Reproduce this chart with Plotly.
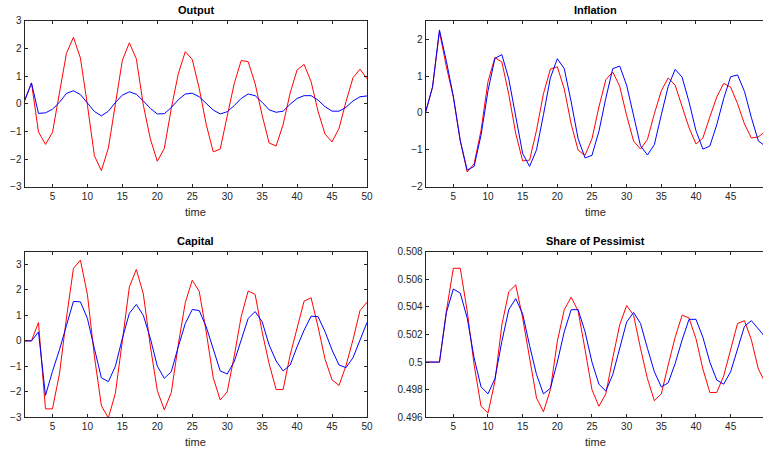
import plotly.graph_objects as go

t = list(range(1, 51))

output_red = [0.1, 0.75, -1.02, -1.47, -1.04, 0.35, 1.82, 2.4, 1.65, -0.05,
              -1.88, -2.42, -1.6, -0.02, 1.57, 2.2, 1.62, -0.05, -1.27, -2.08,
              -1.62, -0.17, 1.08, 1.88, 1.6, 0.55, -0.75, -1.74, -1.64, -0.45,
              0.72, 1.56, 1.52, 0.72, -0.42, -1.42, -1.53, -0.75, 0.38, 1.22,
              1.42, 0.8, -0.28, -1.1, -1.38, -0.89, 0.08, 0.94, 1.25, 0.9]
output_blue = [0.1, 0.75, -0.35, -0.33, -0.2, 0.05, 0.37, 0.47, 0.33, 0.04,
               -0.28, -0.44, -0.27, 0.04, 0.31, 0.43, 0.34, 0.1, -0.17, -0.37,
               -0.36, -0.14, 0.14, 0.35, 0.38, 0.25, 0.02, -0.23, -0.37, -0.29,
               -0.07, 0.19, 0.35, 0.29, 0.05, -0.22, -0.31, -0.27, -0.02, 0.19,
               0.29, 0.29, 0.13, -0.11, -0.27, -0.27, -0.13, 0.1, 0.25, 0.28]

infl_red = [0.02, 0.7, 2.2, 1.25, 0.43, -0.76, -1.6, -1.38, -0.47, 0.85,
            1.5, 1.38, 0.5, -0.56, -1.3, -1.28, -0.47, 0.52, 1.19, 1.25,
            0.65, -0.3, -1.01, -1.15, -0.7, 0.16, 0.9, 1.11, 0.72, -0.07,
            -0.76, -0.98, -0.72, -0.02, 0.6, 0.95, 0.75, 0.16, -0.4, -0.84,
            -0.68, -0.11, 0.43, 0.8, 0.7, 0.25, -0.3, -0.68, -0.65, -0.5]
infl_blue = [0.02, 0.7, 2.25, 1.4, 0.45, -0.75, -1.55, -1.45, -0.6, 0.6,
             1.48, 1.58, 0.92, -0.1, -1.1, -1.45, -1.0, -0.05, 0.95, 1.47,
             1.2, 0.3, -0.7, -1.22, -1.15, -0.5, 0.4, 1.2, 1.27, 0.75,
             -0.1, -0.89, -1.14, -0.86, -0.05, 0.72, 1.18, 0.97, 0.3, -0.48,
             -0.98, -0.9, -0.32, 0.39, 0.98, 1.03, 0.58, -0.13, -0.76, -0.9]

cap_red = [0.0, 0.0, 0.72, -2.67, -2.67, -1.3, 0.9, 2.84, 3.17, 1.82,
           -0.6, -2.55, -3.02, -2.06, 0.0, 2.12, 2.8, 1.84, -0.2, -1.95,
           -2.71, -2.03, -0.15, 1.5, 2.38, 1.94, 0.35, -1.45, -2.32, -2.0,
           -0.6, 0.95, 1.96, 1.82, 0.35, -0.9, -1.91, -1.91, -0.56, 0.55,
           1.56, 1.69, 0.55, -0.72, -1.53, -1.75, -0.97, 0.05, 1.19, 1.52]
cap_blue = [0.0, 0.0, 0.35, -2.14, -1.2, -0.35, 0.6, 1.55, 1.53, 0.88,
            -0.3, -1.45, -1.6, -1.0, 0.1, 1.08, 1.43, 1.0, 0.1, -0.99,
            -1.47, -1.21, -0.23, 0.68, 1.23, 1.19, 0.55, -0.36, -1.18, -1.3,
            -0.82, 0.03, 0.88, 1.15, 0.75, -0.16, -0.79, -1.18, -0.95, -0.23,
            0.42, 0.97, 0.95, 0.36, -0.36, -0.95, -1.05, -0.66, 0.03, 0.72]

share_red = [0.5, 0.5, 0.5, 0.5037, 0.5068, 0.5068, 0.5037, 0.4998, 0.4968, 0.4963,
             0.4986, 0.5027, 0.5051, 0.5056, 0.5032, 0.5003, 0.4974, 0.4964, 0.4980, 0.5015,
             0.5038, 0.5047, 0.5037, 0.5009, 0.4980, 0.4968, 0.4977, 0.5003, 0.5027, 0.5041,
             0.5034, 0.5010, 0.4988, 0.4972, 0.4977, 0.4998, 0.5018, 0.5034, 0.5032, 0.5017,
             0.4995, 0.4978, 0.4978, 0.4990, 0.5009, 0.5028, 0.5030, 0.5016, 0.4995, 0.4985]
share_blue = [0.5, 0.5, 0.5, 0.5036, 0.5053, 0.5050, 0.5032, 0.5003, 0.4982, 0.4977,
              0.4988, 0.5015, 0.5038, 0.5046, 0.5035, 0.5012, 0.4991, 0.4977, 0.4981, 0.5000,
              0.5022, 0.5038, 0.5038, 0.5022, 0.5000, 0.4984, 0.4979, 0.4991, 0.5010, 0.5029,
              0.5036, 0.5028, 0.5010, 0.4993, 0.4982, 0.4985, 0.4999, 0.5016, 0.5031, 0.5031,
              0.5018, 0.5000, 0.4987, 0.4984, 0.4993, 0.5010, 0.5026, 0.5030, 0.5024, 0.5018]

titles = ["Output", "Inflation", "Capital", "Share of Pessimist"]
xticks = [5, 10, 15, 20, 25, 30, 35, 40, 45, 50]
yticks_output = [-3, -2, -1, 0, 1, 2, 3]
yticks_infl = [-2, -1, 0, 1, 2]
yticks_cap = [-3, -2, -1, 0, 1, 2, 3]
yticks_share = [0.496, 0.498, 0.5, 0.502, 0.504, 0.506, 0.508]
yticktext_share = ["0.496", "0.498", "0.5", "0.502", "0.504", "0.506", "0.508"]

W, H = 763, 451
FONT = "Liberation Sans, Arial, Helvetica, sans-serif"
AX = "#262626"

# pixel boxes on screen (left, right, top, bottom)
boxes = [(24.5, 367.0, 20.7, 186.7), (425.6, 763.0, 20.7, 186.7),
         (24.5, 367.0, 251.7, 417.3), (425.6, 763.0, 251.7, 417.3)]
xranges = [[1, 50], [1, 49.67], [1, 50], [1, 49.67]]
yranges = [[-3, 3], [-2, 2.5], [-3, 3.5], [0.496, 0.508]]
ytickvals = [yticks_output, yticks_infl, yticks_cap, yticks_share]
yticktexts = [None, None, None, yticktext_share]
series = [(output_red, output_blue), (infl_red, infl_blue),
          (cap_red, cap_blue), (share_red, share_blue)]

fig = go.Figure()
annotations = []
for i in range(4):
    n = "" if i == 0 else str(i + 1)
    red, blue = series[i]
    fig.add_trace(go.Scatter(x=t, y=red, mode="lines", line=dict(color="#FF0000", width=1),
                             xaxis="x" + n, yaxis="y" + n, showlegend=False))
    fig.add_trace(go.Scatter(x=t, y=blue, mode="lines", line=dict(color="#0000FF", width=1),
                             xaxis="x" + n, yaxis="y" + n, showlegend=False))
    l, r, tp, b = boxes[i]
    right_col = (i % 2 == 1)
    xd = [l / W, r / W]
    yd = [1 - b / H, 1 - tp / H]
    common = dict(showgrid=False, zeroline=False, showline=True, linecolor=AX, linewidth=1,
                  ticks="inside", ticklen=3, tickcolor=AX, automargin=False,
                  tickfont=dict(family=FONT, size=10, color=AX))
    yax = dict(domain=yd, range=yranges[i], tickvals=ytickvals[i], anchor="x" + n,
               mirror=(False if right_col else "ticks"), **common)
    if yticktexts[i] is not None:
        yax["ticktext"] = yticktexts[i]
    xax = dict(domain=xd, range=xranges[i], tickvals=xticks, anchor="y" + n,
               mirror="ticks", **common)
    fig.update_layout(**{"xaxis" + n: xax, "yaxis" + n: yax})
    cx = (l + r) / 2 if not right_col else (l + 765.3) / 2
    annotations.append(dict(text="<b>" + titles[i] + "</b>", x=cx / W, y=1 - (tp - 3) / H,
                            xref="paper", yref="paper", xanchor="center", yanchor="bottom",
                            showarrow=False, font=dict(family=FONT, size=11, color="#000000")))
    annotations.append(dict(text="time", x=cx / W, y=1 - (b + 25) / H,
                            xref="paper", yref="paper", xanchor="center", yanchor="middle",
                            showarrow=False, font=dict(family=FONT, size=11, color=AX)))

fig.update_layout(width=W, height=H, margin=dict(l=0, r=0, t=0, b=0, autoexpand=False),
                  paper_bgcolor="white", plot_bgcolor="white", hovermode=False,
                  annotations=annotations, font=dict(family=FONT))
fig.write_html("out.html", config={"displayModeBar": False},
               post_script="document.body.style.margin='0';document.body.style.overflow='hidden';")
